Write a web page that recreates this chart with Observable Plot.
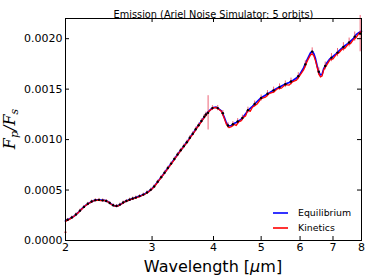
<!DOCTYPE html>
<html><head><meta charset="utf-8">
<script src="https://cdn.jsdelivr.net/npm/d3@7"></script>
<script src="https://cdn.jsdelivr.net/npm/@observablehq/plot@0.6"></script>
<style>
body{margin:0;background:#fff;}
#wrap{position:relative;width:374px;height:280px;}
</style></head><body><div id="wrap"></div>
<script>
const wave = [2.00,2.04,2.08,2.12,2.16,2.20,2.24,2.28,2.32,2.36,2.40,2.44,2.48,2.52,2.56,2.60,2.64,2.68,2.72,2.76,
  2.80,2.85,2.90,2.95,3.00,3.05,3.10,3.15,3.20,3.25,3.30,3.35,3.40,3.45,3.50,3.55,3.60,3.65,3.70,3.75,
  3.80,3.85,3.90,3.95,4.00,4.05,4.10,4.15,4.20,4.25,4.30,4.35,4.40,4.45,4.50,4.55,4.60,4.65,4.70,4.75,
  4.80,4.90,5.00,5.10,5.20,5.30,5.40,5.50,5.60,5.70,5.80,5.90,6.00,6.10,6.20,6.30,6.35,6.40,6.45,6.50,
  6.55,6.60,6.65,6.70,6.80,6.90,7.00,7.10,7.20,7.30,7.40,7.50,7.60,7.70,7.80,7.90,8.00];
const equilibrium = [0.000195,0.000215,0.000240,0.000275,0.000315,0.000350,0.000375,0.000395,0.000402,0.000400,
  0.000398,0.000385,0.000360,0.000343,0.000345,0.000365,0.000385,0.000398,0.000410,0.000420,
  0.000432,0.000445,0.000462,0.000485,0.000515,0.000555,0.000600,0.000645,0.000690,0.000735,
  0.000780,0.000825,0.000870,0.000910,0.000950,0.000990,0.001035,0.001075,0.001120,0.001160,
  0.001200,0.001240,0.001275,0.001300,0.001318,0.001322,0.001305,0.001285,0.001230,0.001165,
  0.001135,0.001140,0.001160,0.001170,0.001185,0.001200,0.001225,0.001255,0.001290,0.001310,
  0.001330,0.001375,0.001415,0.001440,0.001465,0.001490,0.001510,0.001530,0.001550,0.001565,
  0.001585,0.001610,0.001650,0.001710,0.001790,0.001860,0.001875,0.001850,0.001800,0.001730,
  0.001670,0.001640,0.001645,0.001700,0.001760,0.001800,0.001825,0.001850,0.001880,0.001905,
  0.001930,0.001950,0.001975,0.002000,0.002040,0.002060,0.002075];
const kinetics = [0.000190,0.000212,0.000238,0.000272,0.000312,0.000348,0.000372,0.000392,0.000400,0.000396,
  0.000397,0.000382,0.000357,0.000340,0.000342,0.000362,0.000383,0.000395,0.000407,0.000417,
  0.000428,0.000441,0.000458,0.000481,0.000510,0.000550,0.000595,0.000640,0.000684,0.000730,
  0.000774,0.000820,0.000864,0.000905,0.000945,0.000985,0.001030,0.001068,0.001115,0.001152,
  0.001196,0.001232,0.001270,0.001295,0.001315,0.001318,0.001300,0.001280,0.001220,0.001150,
  0.001118,0.001128,0.001150,0.001140,0.001175,0.001185,0.001220,0.001235,0.001295,0.001280,
  0.001320,0.001350,0.001405,0.001420,0.001458,0.001470,0.001505,0.001510,0.001545,0.001540,
  0.001575,0.001590,0.001640,0.001690,0.001775,0.001840,0.001850,0.001830,0.001780,0.001715,
  0.001650,0.001620,0.001630,0.001690,0.001740,0.001790,0.001800,0.001840,0.001860,0.001895,
  0.001905,0.001940,0.001950,0.001990,0.002010,0.002050,0.002070];
const obsWave = [2.02,2.06,2.10,2.14,2.18,2.22,2.26,2.30,2.34,2.38,2.42,2.46,2.50,2.54,2.58,2.62,2.66,2.70,2.74,2.78,
  2.83,2.88,2.93,2.98,3.03,3.08,3.13,3.18,3.23,3.28,3.33,3.38,3.43,3.48,3.53,3.58,3.63,3.68,3.73,3.78,
  3.83,3.86,3.90,3.98,4.08,4.18,4.28,4.38,4.48,4.58,4.70,4.85,5.00,5.15,5.30,5.45,5.60,5.75,5.95,6.15,
  6.35,6.55,6.75,6.95,7.15,7.35,7.55,7.75,7.95];
const obsFlux = [0.000205,0.000228,0.000258,0.000296,0.000333,0.000364,0.000386,0.000400,0.000403,0.000398,
  0.000392,0.000372,0.000350,0.000342,0.000356,0.000377,0.000391,0.000404,0.000416,0.000425,
  0.000440,0.000455,0.000476,0.000502,0.000535,0.000582,0.000628,0.000672,0.000718,0.000762,
  0.000808,0.000852,0.000895,0.000935,0.000974,0.001018,0.001058,0.001103,0.001142,0.001184,
  0.001226,0.001248,0.001265,0.001312,0.001312,0.001262,0.001140,0.001152,0.001180,0.001214,
  0.001292,0.001352,0.001412,0.001455,0.001488,0.001520,0.001548,0.001575,0.001628,0.001745,
  0.001872,0.001672,0.001730,0.001812,0.001862,0.001918,0.001962,0.002020,0.002050];
const obsErr = [0.000014,0.000014,0.000014,0.000014,0.000014,0.000014,0.000014,0.000014,0.000014,0.000014,
  0.000014,0.000014,0.000014,0.000014,0.000014,0.000014,0.000014,0.000015,0.000015,0.000015,
  0.000015,0.000015,0.000016,0.000016,0.000016,0.000016,0.000017,0.000017,0.000017,0.000017,
  0.000018,0.000018,0.000018,0.000019,0.000019,0.000020,0.000020,0.000021,0.000021,0.000022,
  0.000022,0.000024,0.000170,0.000024,0.000026,0.000026,0.000027,0.000027,0.000028,0.000028,
  0.000029,0.000030,0.000030,0.000031,0.000032,0.000032,0.000033,0.000034,0.000035,0.000036,
  0.000037,0.000038,0.000039,0.000040,0.000041,0.000042,0.000044,0.000046,0.000180];
const strayWave = [2.0];
const strayFlux = [0.000082];
const xTicks = [2,3,4,5,6,7,8];
const yTicks = [0,0.0005,0.0010,0.0015,0.0020];
const titleText = "Emission (Ariel Noise Simulator: 5 orbits)";
const seriesNames = ["Equilibrium","Kinetics"];
const seriesColors = ["#0000ff","#ff0000"];

const W = 374, H = 280, mL = 65, mR = 13, mT = 18, mB = 40;
const pw = W - mL - mR, ph = H - mT - mB;
const eq = wave.map((w,i)=>({w, v: equilibrium[i]}));
const kin = wave.map((w,i)=>({w, v: kinetics[i]}));
const obs = obsWave.map((w,i)=>({w, v: obsFlux[i], e: obsErr[i]}));
const stray = strayWave.map((w,i)=>({w, v: strayFlux[i]}));

const plot = Plot.plot({
  width: W, height: H, marginLeft: mL, marginRight: mR, marginTop: mT, marginBottom: mB,
  style: {fontFamily: "DejaVu Sans", fontSize: "11px", color: "black", background: "white", overflow: "visible"},
  x: {type: "log", domain: [2, 8]},
  y: {domain: [0, 0.0022]},
  marks: [
    Plot.line(eq, {x: "w", y: "v", stroke: seriesColors[0], strokeWidth: 1.7}),
    Plot.ruleX(obs, {x: "w", y1: d => d.v - d.e, y2: d => d.v + d.e, stroke: "#e8304a", strokeWidth: 1, strokeOpacity: 0.75}),
    Plot.line(kin, {x: "w", y: "v", stroke: seriesColors[1], strokeWidth: 1.3}),
    Plot.dot(obs, {x: "w", y: "v", r: 1.2, fill: "black", stroke: null}),
    Plot.dot(stray, {x: "w", y: "v", r: 1, fill: "#cc0000", stroke: null}),
    Plot.frame({stroke: "black", strokeWidth: 1}),
    Plot.tickX(xTicks, {x: d => d, insetTop: ph - 4, stroke: "black"}),
    Plot.tickX(xTicks, {x: d => d, insetBottom: ph - 4, stroke: "black"}),
    Plot.tickY(yTicks, {y: d => d, insetRight: pw - 4, stroke: "black"}),
    Plot.tickY(yTicks, {y: d => d, insetLeft: pw - 4, stroke: "black"}),
    Plot.axisX({ticks: xTicks, tickSize: 0, tickPadding: 3, tickFormat: d3.format("d"), label: null}),
    Plot.axisY({ticks: yTicks, tickSize: 0, tickPadding: 3, tickFormat: d3.format(".4f"), label: null}),
    Plot.text([titleText], {text: d => d, frameAnchor: "top", dy: -7, fontSize: 9.75, fill: "black"})
  ]
});
document.getElementById("wrap").appendChild(plot);

const svg = d3.select(plot);
// x label
const xl = svg.append("text").attr("x", mL + pw/2).attr("y", 272)
  .attr("text-anchor", "middle").attr("font-size", 16).attr("fill", "black").attr("font-family", "DejaVu Sans");
xl.append("tspan").text("Wavelength [");
xl.append("tspan").attr("font-style", "italic").text("μ");
xl.append("tspan").text("m]");
// y label
const yl = svg.append("text").attr("transform", `translate(15,${mT + ph/2}) rotate(-90)`)
  .attr("text-anchor", "middle").attr("font-size", 16).attr("fill", "black")
  .attr("font-family", "DejaVu Serif").attr("font-style", "italic");
yl.append("tspan").text("F");
yl.append("tspan").attr("font-size", 11).attr("dy", 3).text("p");
yl.append("tspan").attr("dy", -3).text("/F");
yl.append("tspan").attr("font-size", 11).attr("dy", 3).text("s");
// legend
const lg = svg.append("g").attr("font-family", "DejaVu Sans").attr("font-size", 9.4).attr("text-anchor", "start");
seriesNames.forEach((name, i) => {
  const yy = 213 + i * 15;
  lg.append("line").attr("x1", 273).attr("x2", 288).attr("y1", yy).attr("y2", yy)
    .attr("stroke", seriesColors[i]).attr("stroke-width", 1.6);
  lg.append("text").attr("x", 298).attr("y", yy).attr("dy", "0.35em").attr("text-anchor", "start")
    .attr("fill", "black").text(name);
});
</script></body></html>
